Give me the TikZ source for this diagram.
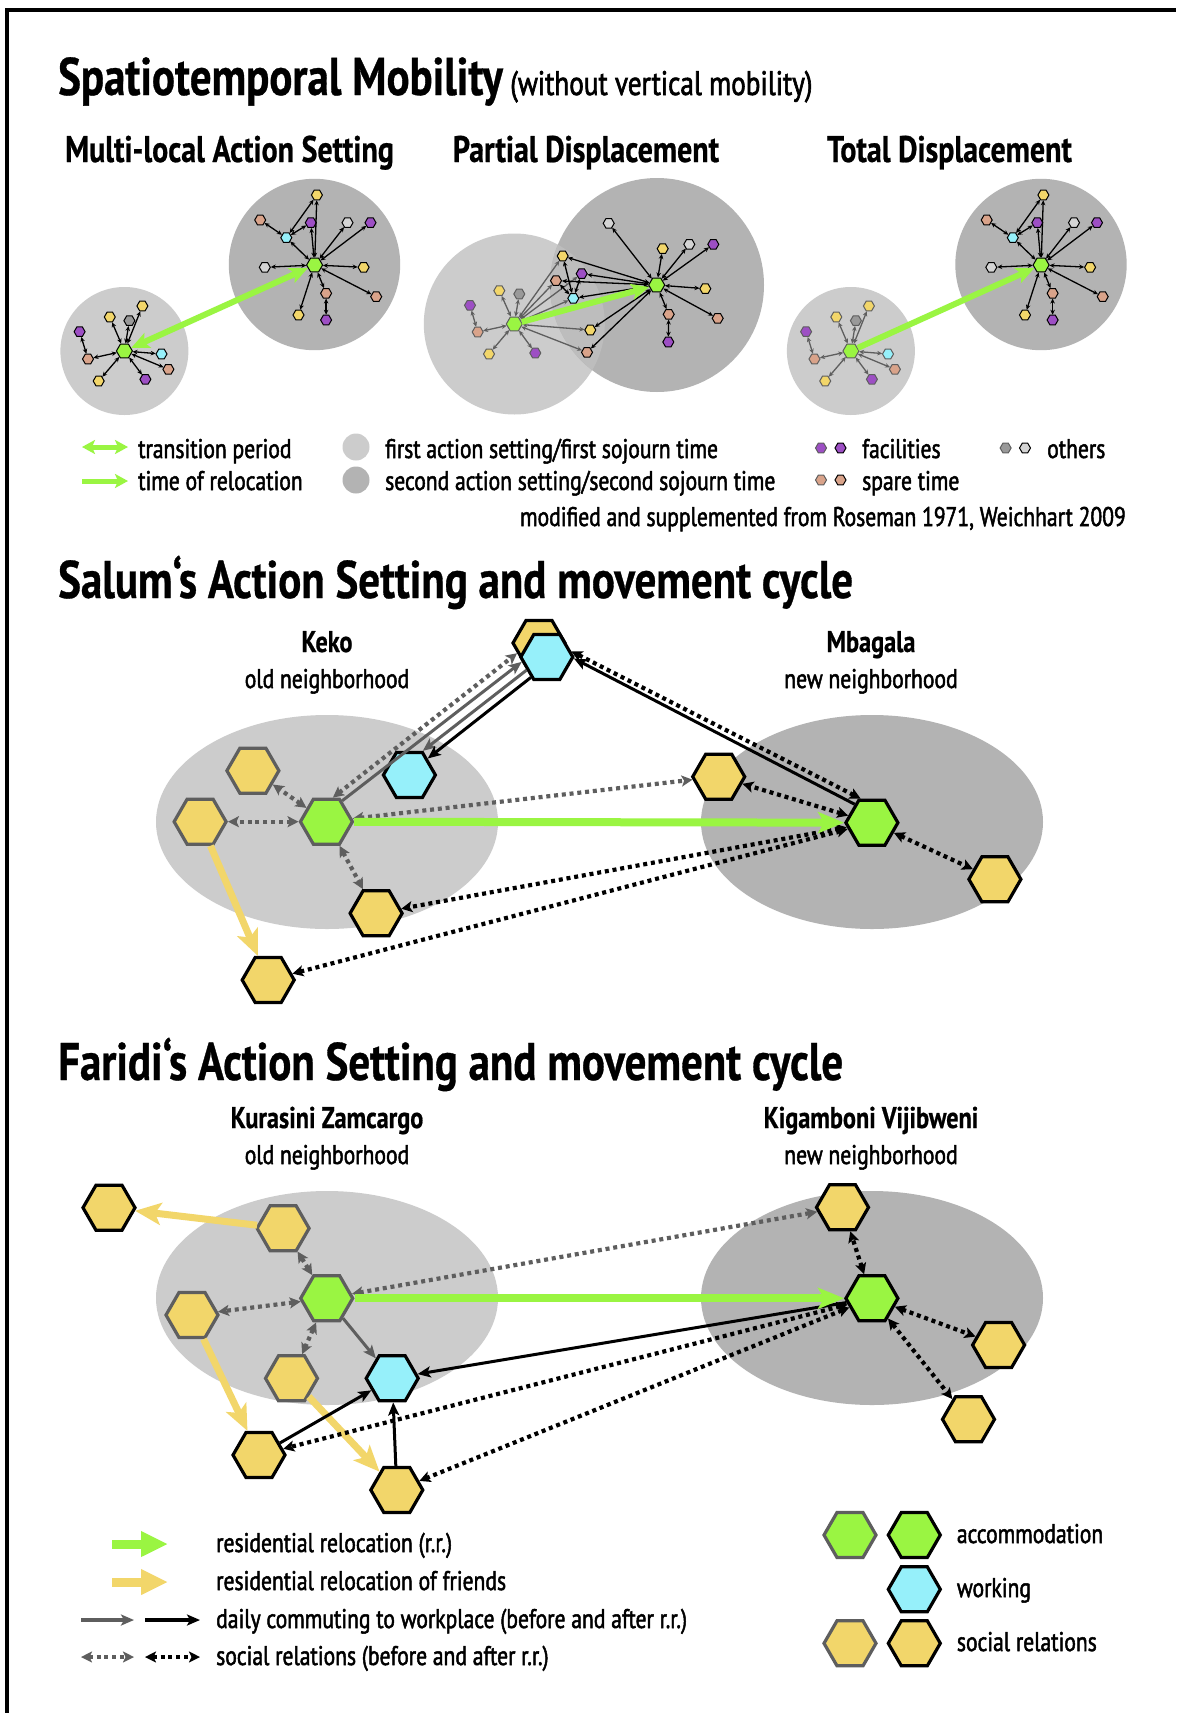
\documentclass[tikz,border=0pt]{standalone}
\usepackage{fontspec}
\setmainfont{PT Sans}
\newfontfamily\boldcond{PT Sans Bold}[FakeStretch=0.81,FakeBold=0.6]
\newfontfamily\plaincond{PT Sans}[FakeStretch=0.80,FakeBold=1.8]
\usetikzlibrary{shapes.geometric}
\usetikzlibrary{arrows.meta}
\usetikzlibrary{positioning}

\definecolor{accgreen}{HTML}{9AF542}
\definecolor{socyellow}{HTML}{F2D66A}
\definecolor{workcyan}{HTML}{96F0FA}
\definecolor{firstgrey}{HTML}{CCCCCC}
\definecolor{secondgrey}{HTML}{B3B3B3}
\definecolor{overlapgrey}{HTML}{BDBDBD}
\definecolor{oldgrey}{HTML}{5E5E5E}
\definecolor{facpurple}{HTML}{9D4FC4}
\definecolor{sparesalmon}{HTML}{D9A38A}
\definecolor{othergrey}{HTML}{999999}
\definecolor{otherlight}{HTML}{D4D4D4}

\begin{document}
\begin{tikzpicture}[x=1pt,y=-1pt,
	hex/.style={regular polygon,regular polygon sides=6,minimum size=52pt,inner sep=0pt,line width=3.2pt,draw=black},
	oldhex/.style={hex,draw=oldgrey},
	spot/.style={regular polygon,regular polygon sides=6,minimum size=11pt,inner sep=0pt,line width=1pt,draw=black},
	oldspot/.style={spot,draw=oldgrey},
	hub/.style={minimum size=16pt,fill=accgreen},
	tie/.style={line width=1.3pt,{Stealth[length=5pt,width=4.5pt]}-{Stealth[length=5pt,width=4.5pt]}},
	oldtie/.style={tie,draw=oldgrey},
	topmove/.style={line width=6pt,draw=accgreen},
	topboth/.style={topmove,{Stealth[length=18pt,width=16pt,inset=4pt]}-{Stealth[length=18pt,width=16pt,inset=4pt]}},
	topone/.style={topmove,-{Stealth[length=18pt,width=16pt,inset=4pt]}},
	social/.style={line width=4.2pt,dash pattern=on 4pt off 3.8pt,{Stealth[length=11pt,width=11pt,inset=2.5pt]}-{Stealth[length=11pt,width=11pt,inset=2.5pt]}},
	oldsocial/.style={social,draw=oldgrey},
	commute/.style={line width=3pt,-{Stealth[length=13pt,width=11pt,inset=3pt]}},
	oldcommute/.style={commute,draw=oldgrey},
	relocate/.style={line width=8pt,draw=accgreen,-{Stealth[length=26pt,width=21pt,inset=6pt]}},
	friends/.style={line width=7pt,draw=socyellow,-{Stealth[length=26pt,width=22pt,inset=6pt]}},
	heading/.style={inner sep=0pt,font=\boldcond\fontsize{53}{60}\selectfont},
	subheading/.style={inner sep=0pt,font=\boldcond\fontsize{37}{44}\selectfont},
	placename/.style={inner sep=0pt,font=\boldcond\fontsize{30}{36}\selectfont},
	legendtext/.style={inner sep=0pt,font=\plaincond\fontsize{27}{32}\selectfont}]

	\useasboundingbox (0,0) rectangle (1176,1713);
	\fill[white] (0,0) rectangle (1176,1713);
	\draw[line width=4pt] (7,1713) -- (7,9.5) -- (1176,9.5);

	% headings
	\node[heading,anchor=base west] (maintitle) at (58,95) {Spatiotemporal Mobility};
	\node[inner sep=0pt,anchor=base west,font=\plaincond\fontsize{34}{40}\selectfont] (titlenote) at ([xshift=7pt]maintitle.base east) {(without vertical mobility)};
	\node[subheading,anchor=base] (multititle) at (229.5,162) {Multi-local Action Setting};
	\node[subheading,anchor=base] (partialtitle) at (586,162) {Partial Displacement};
	\node[subheading,anchor=base] (totaltitle) at (949.5,162) {Total Displacement};

	% multi-local action setting and total displacement
	\foreach \p/\dx/\sd/\st/\ar in {m/0/spot/tie/topboth, t/726.5/oldspot/oldtie/topone} {
		\begin{scope}[xshift=\dx]
			\fill[firstgrey] (124.4,351) circle [radius=64];
			\fill[secondgrey] (314.5,264.5) circle [radius=85.7];
			\node[\sd,hub] (\p s0) at (124.4,351) {};
			\foreach \n/\x/\y/\c in {1/79.6/331.7/facpurple, 2/88/359/sparesalmon, 3/109.8/317/socyellow,
				4/129.4/320.7/othergrey, 5/142.4/306/socyellow, 6/161.5/354/workcyan,
				7/168.4/369.3/sparesalmon, 8/145.4/379.3/facpurple, 9/98.7/381/socyellow}
				\node[\sd,fill=\c] (\p s\n) at (\x,\y) {};
			\node[spot,hub] (\p l0) at (314.6,265) {};
			\foreach \n/\x/\y/\c in {1/316.9/195/socyellow, 2/260.2/220/sparesalmon, 3/310.8/222.7/facpurple,
				4/286.3/237.7/workcyan, 5/347.5/222.7/otherlight, 6/370.5/222.7/facpurple,
				7/264.8/267.3/otherlight, 8/363.6/267.3/socyellow, 9/326.1/293.3/sparesalmon,
				10/326.1/320/facpurple, 11/376.2/296.7/sparesalmon, 12/298.5/315/socyellow}
				\node[spot,fill=\c] (\p l\n) at (\x,\y) {};
			\foreach \n in {2,...,9}
				\draw[\st] (\p s0) -- (\p s\n);
			\draw[\st] (\p s1) -- (\p s2);
			\foreach \n in {1,3,4,5,6,7,8,9,11,12}
				\draw[tie] (\p l0) -- (\p l\n);
			\draw[tie] (\p l9) -- (\p l10);
			\foreach \n in {1,2,3}
				\draw[tie] (\p l4) -- (\p l\n);
			\draw[\ar] (\p s0) -- (\p l0);
		\end{scope}
	}

	% partial displacement
	\fill[firstgrey] (514.3,324) circle [radius=90.5];
	\fill[secondgrey] (657,285) circle [radius=107];
	\begin{scope}
		\clip (514.3,324) circle [radius=90.5];
		\fill[overlapgrey] (657,285) circle [radius=107];
	\end{scope}
	\node[oldspot,hub] (ps0) at (514.3,324) {};
	\foreach \n/\x/\y/\c in {1/499.3/290.7/socyellow, 2/519.3/294/othergrey, 3/470/305.3/facpurple,
		4/477.7/332/sparesalmon, 5/489/354/socyellow, 6/535.3/353/facpurple}
		\node[oldspot,fill=\c] (ps\n) at (\x,\y) {};
	\foreach \n/\x/\y/\c in {1/562.7/256/socyellow, 2/556/280.7/sparesalmon, 3/581.7/273.7/facpurple,
		4/573.3/298.3/workcyan, 5/590.3/330/socyellow, 6/587/352.3/sparesalmon}
		\node[spot,fill=\c] (pq\n) at (\x,\y) {};
	\node[spot,hub] (pl0) at (656.7,285) {};
	\foreach \n/\x/\y/\c in {1/608.7/223.3/otherlight, 2/662.7/248.7/socyellow, 3/689.3/244.3/otherlight,
		4/713.3/244.3/facpurple, 5/705.3/288.7/socyellow, 6/717.7/318.3/sparesalmon,
		7/668.7/314.3/sparesalmon, 8/668.3/342/facpurple}
		\node[spot,fill=\c] (pl\n) at (\x,\y) {};
	\foreach \n in {1,2,4,5,6}
		\draw[oldtie] (ps0) -- (ps\n);
	\draw[oldtie] (ps3) -- (ps4);
	\foreach \n in {1,...,6}
		\draw[oldtie] (ps0) -- (pq\n);
	\foreach \n in {1,...,7}
		\draw[tie] (pl0) -- (pl\n);
	\draw[tie] (pl7) -- (pl8);
	\foreach \n in {1,...,6}
		\draw[tie] (pl0) -- (pq\n);
	\foreach \n in {1,2,3}
		\draw[tie] (pq4) -- (pq\n);
	\draw[topone] (ps0) -- (pl0);

	% legend of the first part
	\coordinate (tra) at (82,447);
	\coordinate (trb) at (128,447);
	\coordinate (rea) at (82,481);
	\coordinate (reb) at (128,481);
	\draw[line width=5pt,draw=accgreen,{Stealth[length=13pt,width=14pt,inset=3pt]}-{Stealth[length=13pt,width=14pt,inset=3pt]}] (tra) -- (trb);
	\draw[line width=5pt,draw=accgreen,-{Stealth[length=13pt,width=14pt,inset=3pt]}] (rea) -- (reb);
	\node[legendtext,anchor=base west] (trtext) at (138,458) {transition period};
	\node[legendtext,anchor=base west] (retext) at (138,490) {time of relocation};
	\node[circle,fill=firstgrey,minimum size=27pt,inner sep=0pt] (firstdot) at (356,447) {};
	\node[circle,fill=secondgrey,minimum size=27pt,inner sep=0pt] (seconddot) at (356,480) {};
	\node[legendtext,anchor=base west] (firsttext) at (385,458) {first action setting/first sojourn time};
	\node[legendtext,anchor=base west] (secondtext) at (385,490) {second action setting/second sojourn time};
	\node[oldspot,fill=facpurple] (faca) at (821,448) {};
	\node[spot,fill=facpurple] (facb) at (840.5,448) {};
	\node[oldspot,fill=sparesalmon] (sparea) at (821,480) {};
	\node[spot,fill=sparesalmon] (spareb) at (840.5,480) {};
	\node[oldspot,fill=othergrey] (othera) at (1005.6,448) {};
	\node[spot,fill=otherlight] (otherb) at (1025,448) {};
	\node[legendtext,anchor=base west] (factext) at (862,458) {facilities};
	\node[legendtext,anchor=base west] (sparetext) at (862,490) {spare time};
	\node[legendtext,anchor=base west] (othertext) at (1047,458) {others};
	\node[legendtext,anchor=base east] (source) at (1126,526) {modified and supplemented from Roseman 1971, Weichhart 2009};

	% Salum
	\node[heading,anchor=base west] (salumtitle) at (58,598) {Salum‘s Action Setting and movement cycle};
	\node[placename,anchor=base] (keko) at (327,652) {Keko};
	\node[legendtext,anchor=base] (kekonote) at (327,688) {old neighborhood};
	\node[placename,anchor=base] (mbagala) at (871,652) {Mbagala};
	\node[legendtext,anchor=base] (mbagalanote) at (871,688) {new neighborhood};
	\fill[firstgrey] (327,822) ellipse [x radius=171,y radius=107];
	\fill[secondgrey] (872,822) ellipse [x radius=171,y radius=107];
	\node[oldhex,fill=accgreen] (sk) at (326.4,821.7) {};
	\node[oldhex,fill=socyellow] (sky1) at (252.9,770.7) {};
	\node[oldhex,fill=socyellow] (sky2) at (200.1,821.7) {};
	\node[hex,fill=workcyan] (skc) at (409.4,775) {};
	\node[hex,fill=socyellow] (sky3) at (376.1,913.3) {};
	\node[hex,fill=socyellow] (sky4) at (268.2,980) {};
	\node[hex,fill=socyellow] (sty) at (539,643) {};
	\node[hex,fill=workcyan] (stc) at (546.8,657) {};
	\node[hex,fill=accgreen] (sm) at (871.9,822.7) {};
	\node[hex,fill=socyellow] (smy1) at (718.7,776.7) {};
	\node[hex,fill=socyellow] (smy2) at (994.9,879.3) {};
	\draw[friends] (sky2) -- (sky4);
	\draw[oldsocial] (sk) -- (sky1);
	\draw[oldsocial] (sk) -- (sky2);
	\draw[oldsocial] (sk) -- (sky3);
	\draw[oldsocial] (sk.75) -- (sty.205);
	\draw[oldcommute] (sk.53) -- (stc.191);
	\draw[oldcommute] (stc.213) -- (skc.61);
	\draw[commute] (stc.232) -- (skc.42);
	\draw[oldsocial] (sk) -- (smy1);
	\draw[commute] (sm.133) -- (stc.357);
	\draw[social] (sm.115) -- (stc.13);
	\draw[social] (sm) -- (smy1);
	\draw[social] (sm) -- (smy2);
	\draw[social] (sm) -- (sky3);
	\draw[social] (sm) -- (sky4);
	\draw[relocate] (sk) -- (sm);

	% Faridi
	\node[heading,anchor=base west] (faridititle) at (58,1080) {Faridi‘s Action Setting and movement cycle};
	\node[placename,anchor=base] (kurasini) at (327,1128) {Kurasini Zamcargo};
	\node[legendtext,anchor=base] (kurasininote) at (327,1164) {old neighborhood};
	\node[placename,anchor=base] (kigamboni) at (871,1128) {Kigamboni Vijibweni};
	\node[legendtext,anchor=base] (kigamboninote) at (871,1164) {new neighborhood};
	\fill[firstgrey] (327,1298) ellipse [x radius=171,y radius=107];
	\fill[secondgrey] (872,1298) ellipse [x radius=171,y radius=107];
	\node[oldhex,fill=accgreen] (fk) at (326.7,1298.3) {};
	\node[hex,fill=socyellow] (fy1) at (109,1207.7) {};
	\node[oldhex,fill=socyellow] (fy2) at (283.1,1228.3) {};
	\node[oldhex,fill=socyellow] (fy3) at (192,1315) {};
	\node[oldhex,fill=socyellow] (fy4) at (291.5,1378.3) {};
	\node[hex,fill=workcyan] (fc) at (392.2,1378.3) {};
	\node[hex,fill=socyellow] (fy5) at (259,1455) {};
	\node[hex,fill=socyellow] (fy6) at (396.8,1490) {};
	\node[hex,fill=accgreen] (fm) at (871.9,1298.3) {};
	\node[hex,fill=socyellow] (fmy1) at (842.5,1207.3) {};
	\node[hex,fill=socyellow] (fmy2) at (998.6,1345) {};
	\node[hex,fill=socyellow] (fmy3) at (968.5,1419.3) {};
	\draw[friends] (fy2) -- (fy1);
	\draw[friends] (fy3) -- (fy5);
	\draw[friends] (fy4) -- (fy6);
	\draw[oldsocial] (fk) -- (fy2);
	\draw[oldsocial] (fk) -- (fy3);
	\draw[oldsocial] (fk) -- (fy4);
	\draw[oldcommute] (fk) -- (fc);
	\draw[oldsocial] (fk) -- (fmy1);
	\draw[commute] (fm) -- (fc);
	\draw[commute] (fy5) -- (fc);
	\draw[commute] (fy6) -- (fc);
	\foreach \t in {fy5,fy6,fmy1,fmy2,fmy3}
		\draw[social] (fm) -- (\t);
	\draw[relocate] (fk) -- (fm);

	% legend of the lower parts
	\coordinate (rra) at (112,1544);
	\coordinate (rrb) at (168,1544);
	\coordinate (rfa) at (112,1582);
	\coordinate (rfb) at (168,1582);
	\coordinate (oca) at (81,1620);
	\coordinate (ocb) at (134,1620);
	\coordinate (nca) at (145,1620);
	\coordinate (ncb) at (200,1620);
	\coordinate (osa) at (81,1657);
	\coordinate (osb) at (134,1657);
	\coordinate (nsa) at (145,1657);
	\coordinate (nsb) at (200,1657);
	\draw[line width=9pt,draw=accgreen,-{Triangle[length=27pt,width=24pt]}] (rra) -- (rrb);
	\draw[line width=9pt,draw=socyellow,-{Triangle[length=27pt,width=24pt]}] (rfa) -- (rfb);
	\draw[oldcommute,line width=4pt] (oca) -- (ocb);
	\draw[commute,line width=4pt] (nca) -- (ncb);
	\draw[oldsocial] (osa) -- (osb);
	\draw[social] (nsa) -- (nsb);
	\node[legendtext,anchor=base west] (rrtext) at (216,1552) {residential relocation (r.r.)};
	\node[legendtext,anchor=base west] (rftext) at (216,1590) {residential relocation of friends};
	\node[legendtext,anchor=base west] (comtext) at (216,1628) {daily commuting to workplace (before and after r.r.)};
	\node[legendtext,anchor=base west] (soctext) at (216,1665) {social relations (before and after r.r.)};
	\node[oldhex,fill=accgreen] (legacca) at (850,1535) {};
	\node[hex,fill=accgreen] (legaccb) at (914.3,1535) {};
	\node[hex,fill=workcyan] (legwork) at (914.3,1589.3) {};
	\node[oldhex,fill=socyellow] (legsoca) at (850,1643.3) {};
	\node[hex,fill=socyellow] (legsocb) at (914.3,1643.3) {};
	\node[legendtext,anchor=base west] (acctext) at (956.7,1543) {accommodation};
	\node[legendtext,anchor=base west] (worktext) at (956.7,1597) {working};
	\node[legendtext,anchor=base west] (soclegtext) at (956.7,1651) {social relations};
\end{tikzpicture}
\end{document}
